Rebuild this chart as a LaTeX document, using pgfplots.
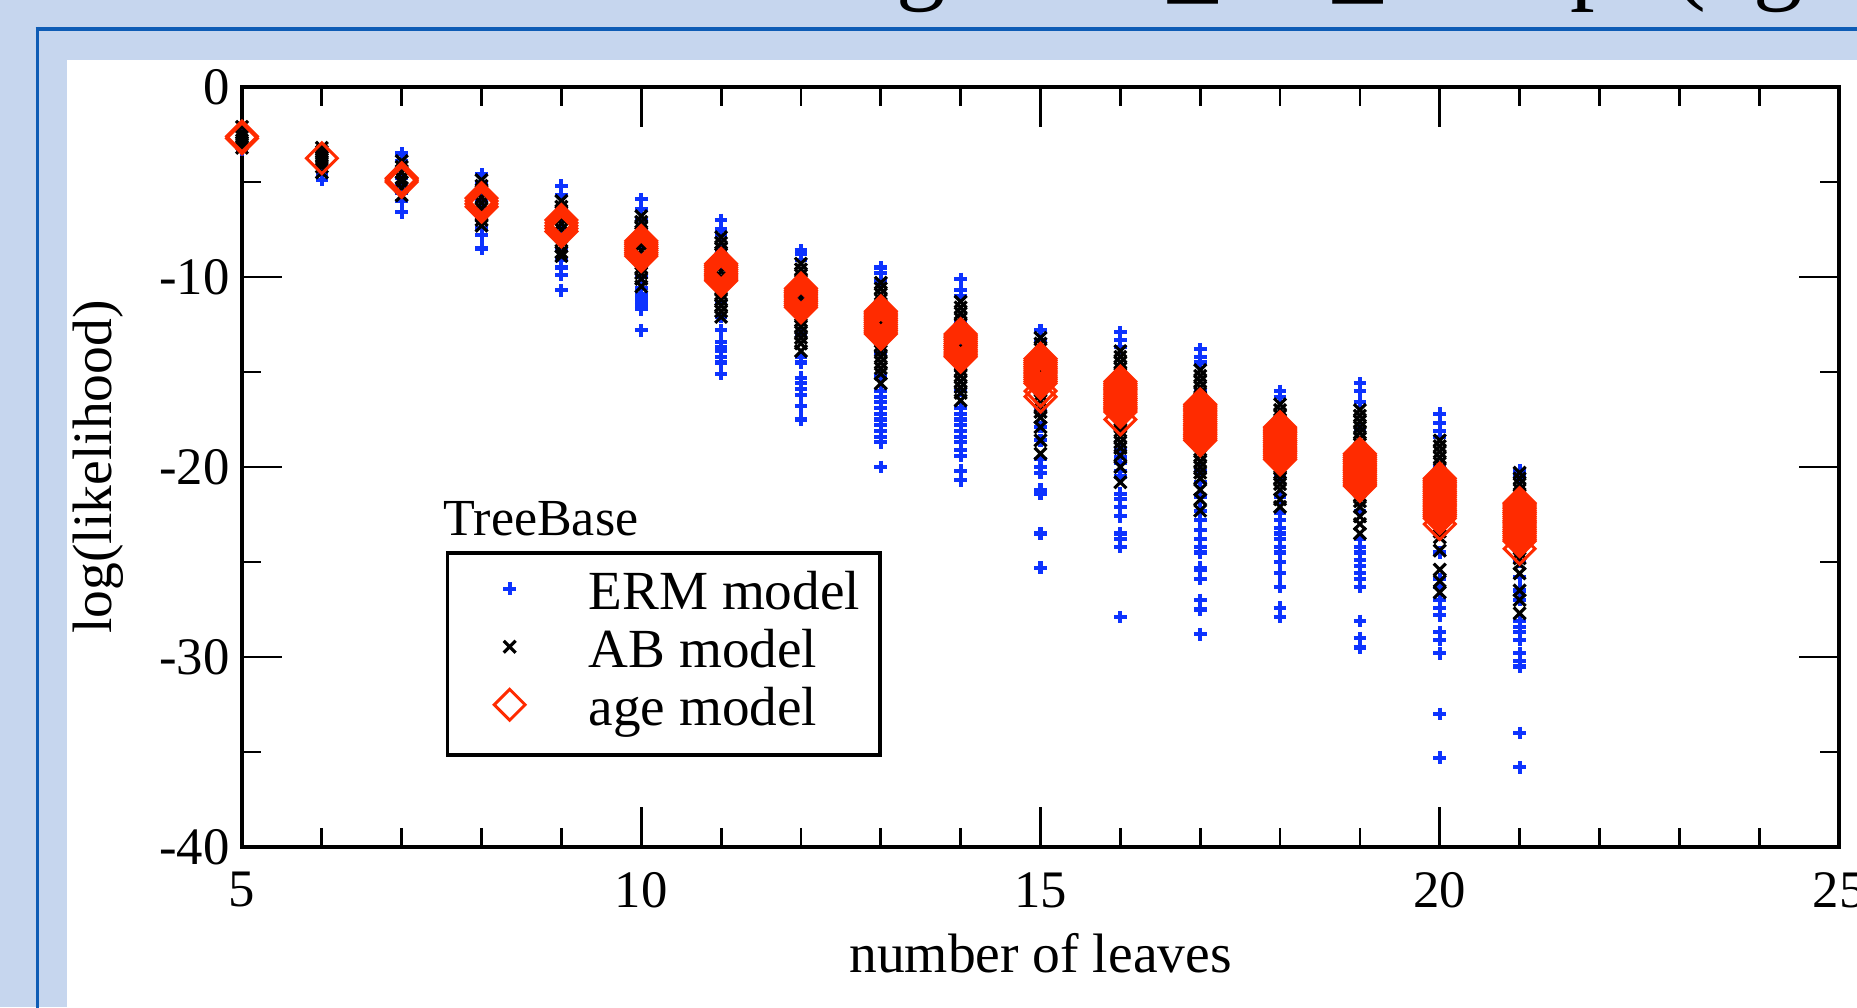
\documentclass[border=0pt]{standalone}
\usepackage{fontspec}
\setmainfont{Liberation Serif}
\usepackage{pgfplots}
\usepackage{pgfplotstable}
\pgfplotsset{compat=1.18}
\definecolor{slidebg}{HTML}{C6D6EE}
\definecolor{slideline}{HTML}{0E5CB5}
\definecolor{ermblue}{HTML}{0D33FF}
\definecolor{agered}{HTML}{FF2B00}

% ERM model (blue +)
\pgfplotstableread[row sep=\\]{
n v\\
5 -2.3\\ 5 -2.6\\ 5 -2.9\\ 5 -3.3\\
6 -3.3\\ 6 -3.6\\ 6 -3.9\\ 6 -4.2\\ 6 -4.6\\ 6 -4.9\\
7 -3.5\\ 7 -3.9\\ 7 -4.3\\ 7 -4.8\\ 7 -5.2\\ 7 -5.6\\ 7 -6.0\\ 7 -6.6\\
8 -4.6\\ 8 -5.0\\ 8 -5.5\\ 8 -6.0\\ 8 -6.5\\ 8 -7.0\\ 8 -7.4\\ 8 -7.8\\ 8 -8.5\\
9 -5.2\\ 9 -5.7\\ 9 -6.3\\ 9 -6.9\\ 9 -7.5\\ 9 -8.1\\ 9 -8.6\\ 9 -9.1\\ 9 -9.5\\ 9 -9.9\\ 9 -10.7\\
10 -5.9\\ 10 -6.4\\ 10 -7.0\\ 10 -7.6\\ 10 -8.2\\ 10 -8.8\\ 10 -9.4\\ 10 -10.0\\ 10 -10.6\\ 10 -10.9\\ 10 -11.1\\ 10 -11.3\\ 10 -11.5\\ 10 -11.7\\ 10 -12.8\\
11 -7.0\\ 11 -7.5\\ 11 -7.8\\ 11 -8.6\\ 11 -9.5\\ 11 -10.4\\ 11 -11.3\\ 11 -12.1\\ 11 -12.8\\ 11 -13.4\\ 11 -13.7\\ 11 -13.9\\ 11 -14.2\\ 11 -14.5\\ 11 -15.1\\
12 -8.6\\ 12 -8.8\\ 12 -9.1\\ 12 -10.0\\ 12 -11.0\\ 12 -12.0\\ 12 -13.0\\ 12 -14.2\\ 12 -14.5\\ 12 -15.3\\ 12 -15.6\\ 12 -15.9\\ 12 -16.2\\ 12 -16.8\\ 12 -17.5\\
13 -9.5\\ 13 -9.8\\ 13 -10.2\\ 13 -11.5\\ 13 -12.8\\ 13 -14.0\\ 13 -15.2\\ 13 -16.0\\ 13 -16.3\\ 13 -16.6\\ 13 -16.9\\ 13 -17.2\\ 13 -17.5\\ 13 -17.8\\ 13 -18.1\\ 13 -18.4\\ 13 -18.7\\ 13 -20.0\\
14 -10.1\\ 14 -10.7\\ 14 -11.0\\ 14 -12.3\\ 14 -13.6\\ 14 -14.9\\ 14 -16.0\\ 14 -16.9\\ 14 -17.2\\ 14 -17.5\\ 14 -17.8\\ 14 -18.1\\ 14 -18.4\\ 14 -18.7\\ 14 -19.1\\ 14 -19.4\\ 14 -20.2\\ 14 -20.7\\
15 -12.8\\ 15 -13.3\\ 15 -14.5\\ 15 -15.8\\ 15 -17.0\\ 15 -17.9\\ 15 -18.6\\ 15 -19.6\\ 15 -20.0\\ 15 -20.3\\ 15 -21.2\\ 15 -21.4\\ 15 -23.5\\ 15 -25.3\\
16 -12.9\\ 16 -13.3\\ 16 -13.7\\ 16 -15.0\\ 16 -16.5\\ 16 -18.0\\ 16 -19.1\\ 16 -19.5\\ 16 -19.8\\ 16 -20.2\\ 16 -20.5\\ 16 -21.4\\ 16 -21.7\\ 16 -22.1\\ 16 -22.6\\ 16 -23.5\\ 16 -23.8\\ 16 -24.2\\ 16 -27.9\\
17 -13.8\\ 17 -14.2\\ 17 -14.5\\ 17 -16.0\\ 17 -17.5\\ 17 -19.0\\ 17 -20.2\\ 17 -20.8\\ 17 -21.6\\ 17 -22.3\\ 17 -22.8\\ 17 -23.3\\ 17 -23.8\\ 17 -24.2\\ 17 -24.5\\ 17 -25.3\\ 17 -25.4\\ 17 -25.9\\ 17 -27.0\\ 17 -27.5\\ 17 -28.8\\
18 -16.0\\ 18 -16.3\\ 18 -17.5\\ 18 -19.0\\ 18 -20.5\\ 18 -21.6\\ 18 -22.4\\ 18 -22.8\\ 18 -23.2\\ 18 -23.5\\ 18 -23.8\\ 18 -24.2\\ 18 -24.5\\ 18 -25.0\\ 18 -25.6\\ 18 -26.3\\ 18 -27.4\\ 18 -27.9\\
19 -15.6\\ 19 -16.0\\ 19 -16.6\\ 19 -18.0\\ 19 -19.5\\ 19 -21.0\\ 19 -22.3\\ 19 -23.8\\ 19 -24.2\\ 19 -24.5\\ 19 -24.9\\ 19 -25.2\\ 19 -25.6\\ 19 -25.9\\ 19 -26.3\\ 19 -28.1\\ 19 -29.0\\ 19 -29.5\\
20 -17.2\\ 20 -17.7\\ 20 -18.1\\ 20 -18.4\\ 20 -20.0\\ 20 -21.5\\ 20 -23.0\\ 20 -24.5\\ 20 -25.9\\ 20 -26.3\\ 20 -27.0\\ 20 -27.4\\ 20 -27.8\\ 20 -28.7\\ 20 -29.1\\ 20 -29.8\\ 20 -33.0\\ 20 -35.3\\
21 -20.2\\ 21 -20.5\\ 21 -22.0\\ 21 -23.5\\ 21 -25.0\\ 21 -25.8\\ 21 -26.5\\ 21 -27.0\\ 21 -28.1\\ 21 -28.4\\ 21 -28.7\\ 21 -29.1\\ 21 -29.8\\ 21 -30.2\\ 21 -30.5\\ 21 -34.0\\ 21 -35.8\\
}\ermdata

% AB model (black x)
\pgfplotstableread[row sep=\\]{
n v\\
5 -2.1\\ 5 -2.4\\ 5 -2.6\\ 5 -2.8\\ 5 -3.0\\ 5 -3.2\\
6 -3.2\\ 6 -3.4\\ 6 -3.6\\ 6 -3.8\\ 6 -4.0\\ 6 -4.2\\ 6 -4.5\\
7 -3.9\\ 7 -4.2\\ 7 -4.5\\ 7 -4.8\\ 7 -5.0\\ 7 -5.3\\ 7 -5.7\\
8 -4.9\\ 8 -5.2\\ 8 -5.5\\ 8 -5.8\\ 8 -6.1\\ 8 -6.4\\ 8 -6.7\\ 8 -7.0\\ 8 -7.3\\
9 -6.0\\ 9 -6.3\\ 9 -6.6\\ 9 -6.9\\ 9 -7.2\\ 9 -7.5\\ 9 -7.8\\ 9 -8.1\\ 9 -8.4\\ 9 -8.7\\ 9 -8.9\\
10 -6.8\\ 10 -7.1\\ 10 -7.4\\ 10 -7.7\\ 10 -8.0\\ 10 -8.3\\ 10 -8.6\\ 10 -8.9\\ 10 -9.2\\ 10 -9.5\\ 10 -9.8\\ 10 -10.1\\ 10 -10.5\\
11 -7.9\\ 11 -8.2\\ 11 -8.5\\ 11 -8.8\\ 11 -9.1\\ 11 -9.4\\ 11 -9.7\\ 11 -10.0\\ 11 -10.3\\ 11 -10.6\\ 11 -10.9\\ 11 -11.2\\ 11 -11.5\\ 11 -11.8\\ 11 -12.1\\
12 -9.3\\ 12 -9.6\\ 12 -9.9\\ 12 -10.2\\ 12 -10.5\\ 12 -10.8\\ 12 -11.1\\ 12 -11.4\\ 12 -11.7\\ 12 -12.0\\ 12 -12.3\\ 12 -12.6\\ 12 -12.9\\ 12 -13.2\\ 12 -13.5\\ 12 -13.9\\
13 -10.3\\ 13 -10.6\\ 13 -10.9\\ 13 -11.2\\ 13 -11.5\\ 13 -11.8\\ 13 -12.1\\ 13 -12.4\\ 13 -12.7\\ 13 -13.0\\ 13 -13.3\\ 13 -13.6\\ 13 -13.9\\ 13 -14.2\\ 13 -14.5\\ 13 -14.8\\ 13 -15.1\\ 13 -15.6\\
14 -11.3\\ 14 -11.6\\ 14 -11.9\\ 14 -12.2\\ 14 -12.5\\ 14 -12.8\\ 14 -13.1\\ 14 -13.4\\ 14 -13.7\\ 14 -14.0\\ 14 -14.3\\ 14 -14.6\\ 14 -14.9\\ 14 -15.2\\ 14 -15.5\\ 14 -15.8\\ 14 -16.1\\ 14 -16.5\\
15 -13.2\\ 15 -13.5\\ 15 -13.8\\ 15 -14.1\\ 15 -14.4\\ 15 -14.7\\ 15 -15.0\\ 15 -15.3\\ 15 -15.6\\ 15 -15.9\\ 15 -16.2\\ 15 -16.5\\ 15 -16.8\\ 15 -17.1\\ 15 -17.4\\ 15 -17.9\\ 15 -18.6\\ 15 -19.3\\
16 -13.9\\ 16 -14.2\\ 16 -14.5\\ 16 -14.8\\ 16 -15.1\\ 16 -15.4\\ 16 -15.7\\ 16 -16.0\\ 16 -16.3\\ 16 -16.6\\ 16 -16.9\\ 16 -17.2\\ 16 -17.5\\ 16 -17.8\\ 16 -18.1\\ 16 -18.4\\ 16 -18.7\\ 16 -19.0\\ 16 -19.4\\ 16 -20.0\\ 16 -20.8\\
17 -14.9\\ 17 -15.2\\ 17 -15.5\\ 17 -15.8\\ 17 -16.1\\ 17 -16.4\\ 17 -16.7\\ 17 -17.0\\ 17 -17.3\\ 17 -17.6\\ 17 -17.9\\ 17 -18.2\\ 17 -18.5\\ 17 -18.8\\ 17 -19.1\\ 17 -19.4\\ 17 -19.7\\ 17 -20.0\\ 17 -20.3\\ 17 -20.6\\ 17 -21.2\\ 17 -21.7\\ 17 -22.3\\
18 -16.7\\ 18 -17.0\\ 18 -17.3\\ 18 -17.6\\ 18 -17.9\\ 18 -18.2\\ 18 -18.5\\ 18 -18.8\\ 18 -19.1\\ 18 -19.4\\ 18 -19.7\\ 18 -20.0\\ 18 -20.3\\ 18 -20.6\\ 18 -20.9\\ 18 -21.2\\ 18 -21.7\\ 18 -22.1\\
19 -17.0\\ 19 -17.3\\ 19 -17.6\\ 19 -17.9\\ 19 -18.2\\ 19 -18.5\\ 19 -18.8\\ 19 -19.1\\ 19 -19.4\\ 19 -19.7\\ 19 -20.0\\ 19 -20.3\\ 19 -20.6\\ 19 -20.9\\ 19 -21.2\\ 19 -21.5\\ 19 -21.8\\ 19 -22.1\\ 19 -22.6\\ 19 -23.0\\ 19 -23.5\\
20 -18.6\\ 20 -18.9\\ 20 -19.2\\ 20 -19.5\\ 20 -19.8\\ 20 -20.1\\ 20 -20.4\\ 20 -20.7\\ 20 -21.0\\ 20 -21.3\\ 20 -21.6\\ 20 -21.9\\ 20 -22.2\\ 20 -22.5\\ 20 -22.8\\ 20 -23.1\\ 20 -23.4\\ 20 -23.7\\ 20 -24.4\\ 20 -25.4\\ 20 -26.0\\ 20 -26.6\\
21 -20.3\\ 21 -20.6\\ 21 -20.9\\ 21 -21.2\\ 21 -21.5\\ 21 -21.8\\ 21 -22.1\\ 21 -22.4\\ 21 -22.7\\ 21 -23.0\\ 21 -23.3\\ 21 -23.6\\ 21 -23.9\\ 21 -24.2\\ 21 -24.5\\ 21 -24.8\\ 21 -25.1\\ 21 -25.6\\ 21 -26.5\\ 21 -27.0\\ 21 -27.7\\
}\abdata

% age model (red diamonds)
\pgfplotstableread[row sep=\\]{
n v\\
5 -2.6\\ 5 -2.7\\
6 -3.75\\
7 -4.8\\ 7 -4.9\\ 7 -5.0\\
8 -5.85\\ 8 -6.0\\ 8 -6.15\\ 8 -6.3\\
9 -7.0\\ 9 -7.15\\ 9 -7.3\\ 9 -7.45\\ 9 -7.6\\
10 -8.1\\ 10 -8.2\\ 10 -8.3\\ 10 -8.4\\ 10 -8.5\\ 10 -8.6\\ 10 -8.7\\ 10 -8.8\\ 10 -8.9\\
11 -9.3\\ 11 -9.4\\ 11 -9.5\\ 11 -9.6\\ 11 -9.7\\ 11 -9.8\\ 11 -9.9\\ 11 -10.0\\ 11 -10.1\\ 11 -10.2\\
12 -10.6\\ 12 -10.7\\ 12 -10.8\\ 12 -10.9\\ 12 -11.0\\ 12 -11.1\\ 12 -11.2\\ 12 -11.3\\ 12 -11.4\\ 12 -11.5\\ 12 -11.6\\
13 -11.8\\ 13 -11.9\\ 13 -12.0\\ 13 -12.1\\ 13 -12.2\\ 13 -12.3\\ 13 -12.4\\ 13 -12.5\\ 13 -12.6\\ 13 -12.7\\ 13 -12.8\\ 13 -12.9\\ 13 -13.0\\
14 -13.0\\ 14 -13.1\\ 14 -13.2\\ 14 -13.3\\ 14 -13.4\\ 14 -13.5\\ 14 -13.6\\ 14 -13.7\\ 14 -13.8\\ 14 -13.9\\ 14 -14.0\\ 14 -14.1\\ 14 -14.2\\
15 -14.3\\ 15 -14.4\\ 15 -14.5\\ 15 -14.6\\ 15 -14.7\\ 15 -14.8\\ 15 -14.9\\ 15 -15.0\\ 15 -15.1\\ 15 -15.2\\ 15 -15.3\\ 15 -15.4\\ 15 -15.5\\ 15 -15.6\\ 15 -16.0\\ 15 -16.3\\
16 -15.5\\ 16 -15.6\\ 16 -15.7\\ 16 -15.8\\ 16 -15.9\\ 16 -16.0\\ 16 -16.1\\ 16 -16.2\\ 16 -16.3\\ 16 -16.4\\ 16 -16.5\\ 16 -16.6\\ 16 -16.7\\ 16 -16.8\\ 16 -16.9\\ 16 -17.0\\ 16 -17.1\\ 16 -17.5\\
17 -16.7\\ 17 -16.8\\ 17 -16.9\\ 17 -17.0\\ 17 -17.1\\ 17 -17.2\\ 17 -17.3\\ 17 -17.4\\ 17 -17.5\\ 17 -17.6\\ 17 -17.7\\ 17 -17.8\\ 17 -17.9\\ 17 -18.0\\ 17 -18.1\\ 17 -18.2\\ 17 -18.3\\ 17 -18.4\\ 17 -18.5\\ 17 -18.6\\
18 -17.9\\ 18 -18.0\\ 18 -18.1\\ 18 -18.2\\ 18 -18.3\\ 18 -18.4\\ 18 -18.5\\ 18 -18.6\\ 18 -18.7\\ 18 -18.8\\ 18 -18.9\\ 18 -19.0\\ 18 -19.1\\ 18 -19.2\\ 18 -19.3\\ 18 -19.4\\ 18 -19.5\\ 18 -19.6\\
19 -19.3\\ 19 -19.4\\ 19 -19.5\\ 19 -19.6\\ 19 -19.7\\ 19 -19.8\\ 19 -19.9\\ 19 -20.0\\ 19 -20.1\\ 19 -20.2\\ 19 -20.3\\ 19 -20.4\\ 19 -20.5\\ 19 -20.6\\ 19 -20.7\\ 19 -20.8\\ 19 -20.9\\ 19 -21.0\\
20 -20.6\\ 20 -20.7\\ 20 -20.8\\ 20 -20.9\\ 20 -21.0\\ 20 -21.1\\ 20 -21.2\\ 20 -21.3\\ 20 -21.4\\ 20 -21.5\\ 20 -21.6\\ 20 -21.7\\ 20 -21.8\\ 20 -21.9\\ 20 -22.0\\ 20 -22.1\\ 20 -22.2\\ 20 -22.3\\ 20 -22.4\\ 20 -22.5\\ 20 -22.6\\ 20 -22.7\\ 20 -23.0\\
21 -21.9\\ 21 -22.0\\ 21 -22.1\\ 21 -22.2\\ 21 -22.3\\ 21 -22.4\\ 21 -22.5\\ 21 -22.6\\ 21 -22.7\\ 21 -22.8\\ 21 -22.9\\ 21 -23.0\\ 21 -23.1\\ 21 -23.2\\ 21 -23.3\\ 21 -23.4\\ 21 -23.5\\ 21 -23.6\\ 21 -23.7\\ 21 -23.8\\ 21 -23.9\\ 21 -24.3\\
}\agedata

\begin{document}
\begin{tikzpicture}
\useasboundingbox (0,0) rectangle (18.57,10.07);
\clip (0,0) rectangle (18.57,10.07);
% slide background and frame
\fill[slidebg] (0,0) rectangle (18.57,10.07);
\fill[white] (0.67,0) rectangle (18.7,9.47);
\draw[slideline, line width=0.04cm] (0.355,9.78) -- (18.7,9.78);
\draw[slideline, line width=0.035cm] (0.375,9.80) -- (0.375,-0.1);
% slide title, cut off by the top edge
\begin{scope}[every node/.style={anchor=base, inner sep=0pt, font=\fontsize{28}{34}\selectfont}]
\node at (9.21,10.15) {g};
\node at (11.93,10.15) {\_};
\node at (13.58,10.15) {\_};
\node at (15.95,10.15) {p};
\node at (16.90,10.15) {(};
\node at (17.78,10.15) {g};
\end{scope}

\begin{axis}[
  at={(2.42cm,1.60cm)}, anchor=south west,
  scale only axis, width=15.97cm, height=7.60cm,
  xmin=5, xmax=25, ymin=-40, ymax=0,
  xtick={5,10,15,20,25}, xticklabels={5,10,15,20,25}, minor x tick num=4,
  ytick={-40,-30,-20,-10,0}, yticklabels={-40,-30,-20,-10,0}, minor y tick num=1,
  tick align=inside, tick pos=both,
  major tick length=0.40cm, minor tick length=0.19cm,
  axis line style={line width=1pt},
  every tick/.style={black, line width=0.8pt},
  tick label style={font=\fontsize{15}{18}\selectfont},
  xticklabel style={yshift=-0.13cm},
  every axis x label/.style={at={(rel axis cs:0.5,0)}, yshift=-1.06cm, anchor=center, font=\fontsize{15.8}{19}\selectfont},
  every axis y label/.style={at={(rel axis cs:0,0.5)}, xshift=-1.44cm, rotate=90, anchor=center, font=\fontsize{15.8}{19}\selectfont},
  xlabel={number of leaves}, ylabel={log(likelihood)},
  clip=false,
  legend cell align=left,
  legend style={at={(0.1277,0.3895)}, anchor=north west, draw=black, line width=1pt, fill=white,
    font=\fontsize{15.7}{19}\selectfont, inner xsep=0.2cm, inner ysep=0.14cm, row sep=0pt,
    nodes={inner xsep=0pt, inner ysep=0.03cm, text height=0.40cm, text depth=0.12cm}},
  legend image code/.code={\path (0cm,0cm) (1.17cm,0cm); \draw[#1, only marks] plot coordinates {(0.4cm,0.07cm)};},
]
\addplot[only marks, mark=+, color=ermblue, mark size=1.8pt, line width=1.15pt] table[x=n, y=v] {\ermdata};
\addplot[only marks, mark=x, color=black, mark size=2.4pt, line width=0.9pt] table[x=n, y=v] {\abdata};
\addplot[only marks, mark=square, color=agered, mark size=3.1pt, line width=0.85pt,
  mark options={rotate=45, fill=none}] table[x=n, y=v] {\agedata};
\legend{ERM model, AB model, age model}
\node[anchor=base west, inner sep=0pt, font=\fontsize{14.8}{18}\selectfont] at (rel axis cs:0.1259,0.4105) {TreeBase};
\end{axis}
\end{tikzpicture}
\end{document}
